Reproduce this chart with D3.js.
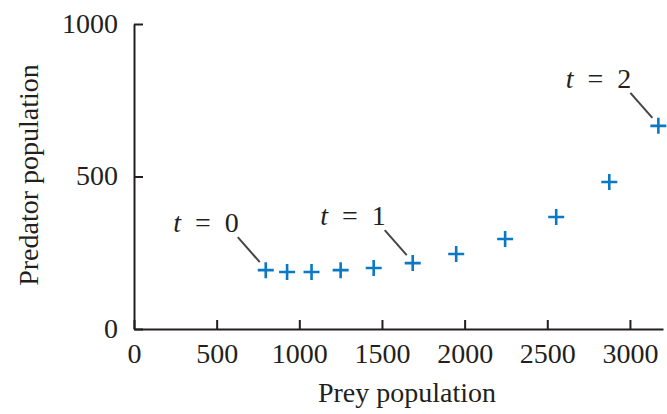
<!DOCTYPE html>
<html>
<head>
<meta charset="utf-8">
<script src="https://cdn.jsdelivr.net/npm/d3@7"></script>
<style>
  body { margin: 0; background: #fff; }
  svg text { font-family: "Liberation Serif", "DejaVu Serif", serif; fill: #231f20; }
</style>
</head>
<body>
<svg id="chart" width="667" height="414"></svg>
<script>
// prey / predator counts
var prey = [797, 926, 1074, 1250, 1450, 1686, 1949, 2245, 2554, 2875, 3172]
var predator = [193, 187, 187, 193, 200, 216, 246, 295, 367, 482, 666]

var xTicks = [0, 500, 1000, 1500, 2000, 2500, 3000]
var yTicks = [0, 500, 1000]

// which points get a "t = n" callout
var timeIndex = [0, 5, 10]
var timeLabel = ['0', '1', '2']

const ink = '#231f20'
const markColor = '#0a78c4'
const fontSize = 28

var svg = d3.select('#chart')

var x = d3.scaleLinear().domain([0, 3200]).range([134, 663])
var y = d3.scaleLinear().domain([0, 1000]).range([329, 24])

var xAxis = svg.append('g')
  .attr('transform', 'translate(0,' + y(0) + ')')
  .call(d3.axisBottom(x).tickValues(xTicks).tickFormat(d3.format('d'))
    .tickSizeInner(-9).tickSizeOuter(0).tickPadding(14))

var yAxis = svg.append('g')
  .attr('transform', 'translate(' + x(0) + ',0)')
  .call(d3.axisLeft(y).tickValues(yTicks).tickFormat(d3.format('d'))
    .tickSizeInner(-9).tickSizeOuter(0).tickPadding(16))

;[xAxis, yAxis].forEach(g => {
  g.selectAll('path, line').attr('stroke', ink).attr('stroke-width', 2)
  g.selectAll('text').attr('font-size', fontSize).attr('fill', ink)
    .style('font-family', '"Liberation Serif", serif')
})
yAxis.selectAll('text').attr('dy', '0.3em')

svg.append('text')
  .attr('x', 407)
  .attr('y', 402)
  .attr('text-anchor', 'middle')
  .attr('font-size', fontSize)
  .text('Prey population')

svg.append('text')
  .attr('transform', 'translate(38,' + 175 + ') rotate(-90)')
  .attr('text-anchor', 'middle')
  .attr('font-size', fontSize)
  .text('Predator population')

// plus markers
var marks = svg.append('g')
prey.forEach((p, i) => {
  var cx = x(p)
  var cy = y(predator[i])
  marks.append('path')
    .attr('d', 'M' + (cx - 8) + ',' + cy + 'H' + (cx + 8) + 'M' + cx + ',' + (cy - 8) + 'V' + (cy + 8))
    .attr('stroke', markColor)
    .attr('stroke-width', 2.6)
    .attr('fill', 'none')
})

// callouts
timeIndex.forEach((idx, i) => {
  var cx = x(prey[idx])
  var cy = y(predator[idx])
  svg.append('line')
    .attr('x1', cx - 28).attr('y1', cy - 33)
    .attr('x2', cx - 6).attr('y2', cy - 8)
    .attr('stroke', '#444')
    .attr('stroke-width', 2)
  var t = svg.append('text')
    .attr('x', cx - 27)
    .attr('y', cy - 38)
    .attr('text-anchor', 'end')
    .attr('font-size', fontSize)
  t.append('tspan').attr('font-style', 'italic').text('t')
  t.append('tspan').text('\u2002=\u2002' + timeLabel[i])
})
</script>
</body>
</html>
